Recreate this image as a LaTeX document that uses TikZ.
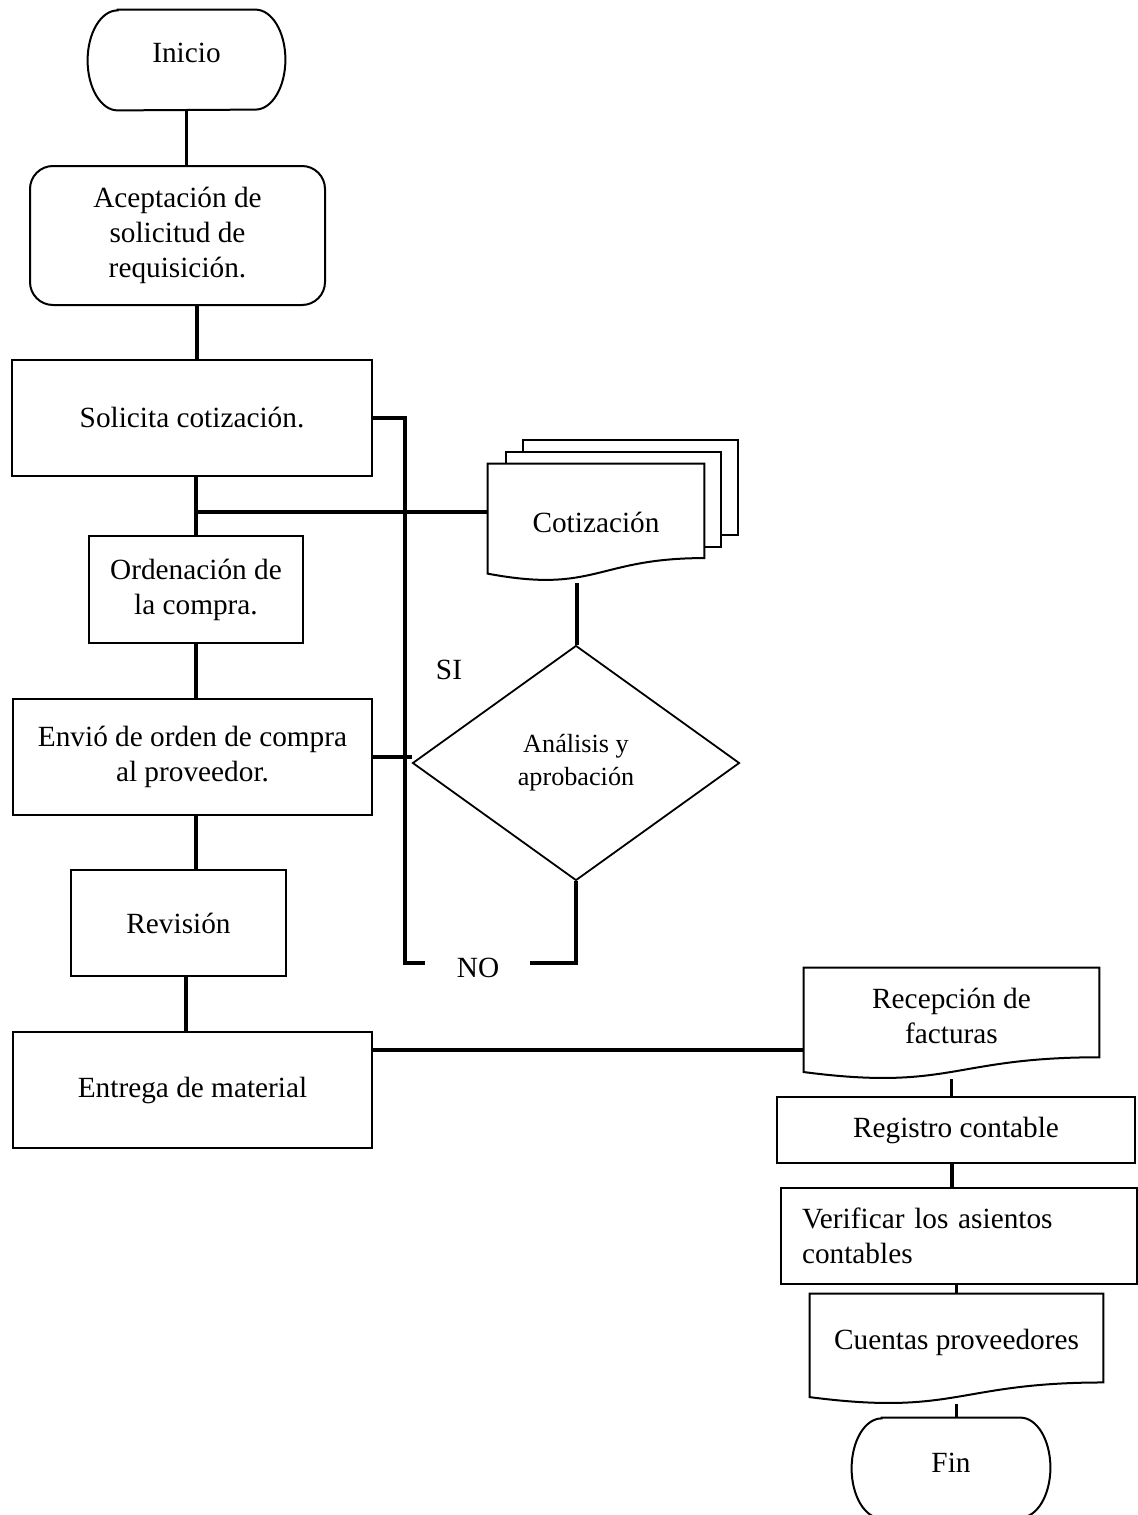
\documentclass[tikz,border=0pt]{standalone}
\usepackage{fontspec}
\setmainfont{Liberation Serif}
\usetikzlibrary{shapes.geometric,calc}
\newcommand\docpath[1]{\draw[shp, fill=white] (#1.north west) -- (#1.north east) -- ($(#1.north east)!0.802!(#1.south east)$) .. controls ($(#1.north)!0.802!(#1.south)$) and ($(#1.north)!1.107!(#1.south)$) .. ($(#1.north west)!0.934!(#1.south west)$) -- cycle;}
\newcommand\termpath[1]{\draw[shp] ([xshift=15pt]#1.north west) -- ([xshift=-15pt]#1.north east) arc[start angle=90,end angle=-90,x radius=15pt,y radius=25pt] -- ([xshift=15pt]#1.south west) arc[start angle=270,end angle=90,x radius=15pt,y radius=25pt] -- cycle;}
\begin{document}
\begin{tikzpicture}[x=0.5pt,y=-0.5pt,
  shp/.style={draw, line width=1pt},
  box/.style={shp, rectangle, align=center, font=\fontsize{14.65pt}{17.5pt}\selectfont, inner sep=0pt},
  bare/.style={rectangle, inner sep=0pt},
  con/.style={line width=1.6pt},
  lbl/.style={font=\fontsize{14.65pt}{17.5pt}\selectfont, inner sep=0pt, align=center}]
\useasboundingbox (0,0) rectangle (1138,1515);

% left column
\node[bare, minimum width=98.5pt, minimum height=50pt] (ini) at (186.5,60) {};
\termpath{ini}
\node[lbl] (ini-t) at ([yshift=3.5pt]ini.center) {Inicio};
\node[box, rounded corners=11.5pt, minimum width=147.5pt, minimum height=69.5pt] (acep) at (177.5,235.5) {Aceptación de\\solicitud de\\requisición.};
\node[box, minimum width=180pt, minimum height=58pt] (sol) at (192,418) {Solicita cotización.};
\node[box, minimum width=107pt, minimum height=53.5pt] (ord) at (196,589.5) {Ordenación de\\la compra.};
\node[box, minimum width=179.5pt, minimum height=58pt] (env) at (192.5,757) {Envió de orden de compra\\al proveedor.};
\node[box, minimum width=107.5pt, minimum height=53pt] (rev) at (178.5,923) {Revisión};
\node[box, minimum width=179.5pt, minimum height=58pt] (ent) at (192.5,1090) {Entrega de material};

% cotizacion (multi document)
\node[bare, minimum width=108pt, minimum height=58.5pt] (cot) at (596,522.5) {};
\draw[shp, fill=white] (523,440) rectangle (738,535);
\draw[shp, fill=white] (506,452) rectangle (721,547);
\docpath{cot}
\node[lbl] (cot-t) at (cot.center) {Cotización};

% decision
\node[draw, line width=0.9pt, diamond, minimum width=163.5pt, minimum height=117.5pt, inner sep=0pt, align=center, font=\fontsize{13.1pt}{16.5pt}\selectfont] (dia) at (576,763) {Análisis y\\aprobación};

% right column
\node[bare, minimum width=147.5pt, minimum height=55.5pt] (rec) at (951.5,1023.5) {};
\docpath{rec}
\node[lbl] (rec-t) at ([yshift=4pt]rec.center) {Recepción de\\facturas};
\node[box, minimum width=179pt, minimum height=33pt] (reg) at (956,1130) {Registro contable};
\node[box, minimum height=48pt, text width=157pt, align=left, inner xsep=10.5pt] (ver) at (959,1236) {Verificar los asientos\\contables};
\node[bare, minimum width=146.5pt, minimum height=55pt] (cta) at (956.5,1349) {};
\docpath{cta}
\node[lbl] (cta-t) at ([yshift=3.5pt]cta.center) {Cuentas proveedores};
\node[bare, minimum width=99pt, minimum height=50pt] (fin) at (951,1468) {};
\termpath{fin}
\node[lbl] (fin-t) at ([yshift=2.5pt]fin.center) {Fin};

% labels
\node[lbl] (no) at (478,968) {NO};
\node[lbl] (si) at (449,670) {SI};

% connectors
\draw[con] (ini.south) -- (ini.south |- acep.north);
\coordinate (a1) at ([xshift=9.75pt]acep.south);
\draw[con] (a1) -- (a1 |- sol.north);
\draw[con] (ord.north |- sol.south) -- (ord.north);
\coordinate (j1) at (195,512);
\draw[con] (j1) -- (j1 -| cot.west);
\coordinate (vx) at (405,963);
\coordinate (no1) at (425,963);
\coordinate (no2) at (530,963);
\draw[con] (sol.east) -| (vx) -- (no1);
\draw[con] (no2) -| (dia.south);
\coordinate (cotb) at (577,583);
\draw[con] (cotb) -- (cotb |- dia.north);
\draw[con] (env.east) -- (env.east -| dia.west);
\draw[con] (ord.south) -- (ord.south |- env.north);
\coordinate (e1) at ([xshift=1.75pt]env.south);
\draw[con] (e1) -- (e1 |- rev.north);
\coordinate (r1) at ([xshift=3.75pt]rev.south);
\draw[con] (r1) -- (r1 |- ent.north);
\coordinate (en1) at ([yshift=20pt]ent.east);
\draw[con] (en1) -- (en1 -| rec.west);
\draw[con] (rec.south) -- (rec.south |- reg.north);
\coordinate (g1) at ([xshift=-2pt]reg.south);
\draw[con] (g1) -- (g1 |- ver.north);
\draw[con] (cta.north |- ver.south) -- (cta.north);
\draw[con] (cta.south) -- (cta.south |- fin.north);
\end{tikzpicture}
\end{document}
